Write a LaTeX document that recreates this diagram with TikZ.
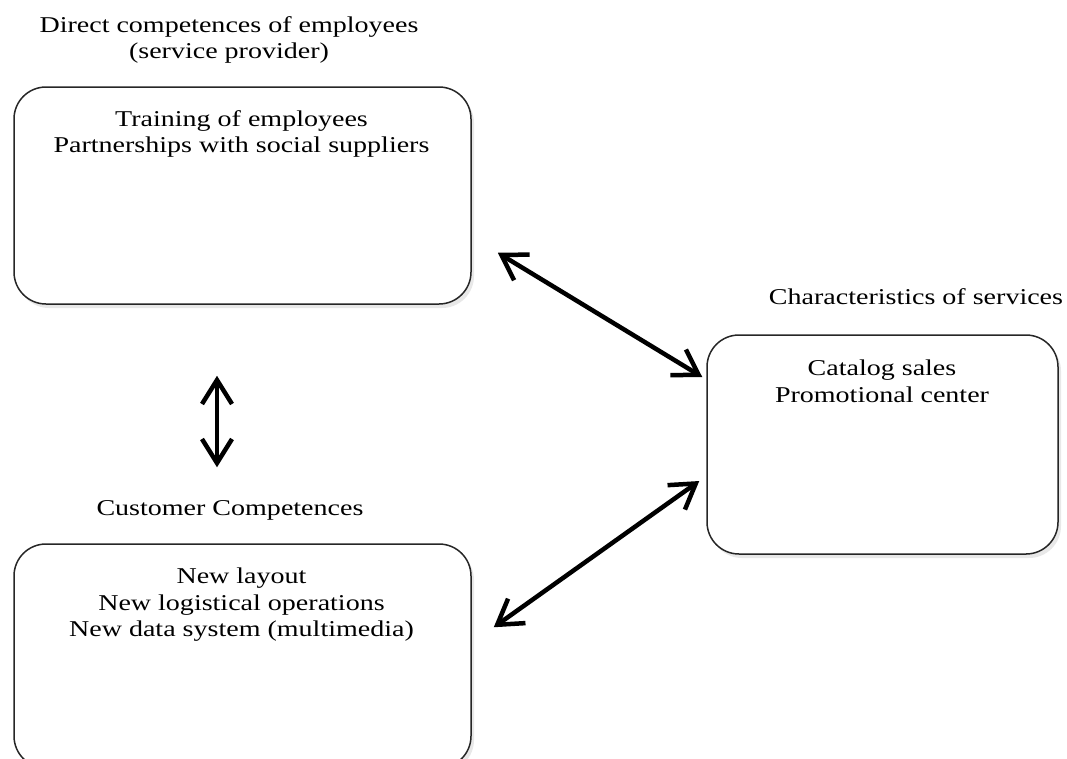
\documentclass[tikz,border=0pt]{standalone}
\usepackage{fontspec}
\newfontfamily\figfont{Liberation Serif}[FakeStretch=1.24]
\usetikzlibrary{arrows.meta, shadows}
\tikzset{>={Straight Barb[length=24pt,width=30pt]}}

\begin{document}
\begin{tikzpicture}[x=1pt, y=-1pt,
  box/.style={rectangle, rounded corners=32pt, draw=black!85, line width=1.5pt, fill=white, inner sep=0pt,
    drop shadow={opacity=0.18, shadow xshift=3pt, shadow yshift=-4pt}},
  txt/.style={font=\figfont\fontsize{22.6}{26.5}\selectfont, align=center, inner sep=0pt},
  dbl/.style={<->, line width=4.5pt}]
      \useasboundingbox (0,0) rectangle (1067,758);
      % boxes
      \node (b1) at (242.5,195.5)[box, minimum width=457pt, minimum height=217pt] {};
      \node (b2) at (882.5,444.5)[box, minimum width=351pt, minimum height=219pt] {};
      \node (b3) at (242.5,656)[box, minimum width=457pt, minimum height=224pt] {};
      % titles and contents
      \node (t1) at (229,40)[txt] {Direct competences of employees\\(service provider)};
      \node (t2) at (241.5,134)[txt] {Training of employees\\Partnerships with social suppliers};
      \node (t3) at (916,297)[txt] {Characteristics of services};
      \node (t4) at (882,381.5)[txt] {Catalog sales\\Promotional center};
      \node (t5) at (230,510)[txt] {Customer Competences};
      \node (t6) at (241.5,605)[txt] {New layout\\New logistical operations\\New data system (multimedia)};
        \draw [dbl] ([shift={(26,-52)}]b1.south east) -- ([shift={(-4,-67.5)}]b2.west);
        \draw [dbl] ([shift={(22,84)}]b3.north east) -- ([shift={(-7,36.5)}]b2.west);
        \draw [dbl] ([shift={(-25.5,71)}]b1.south) -- ([shift={(-25.5,-76)}]b3.north);

\end{tikzpicture}
\end{document}
